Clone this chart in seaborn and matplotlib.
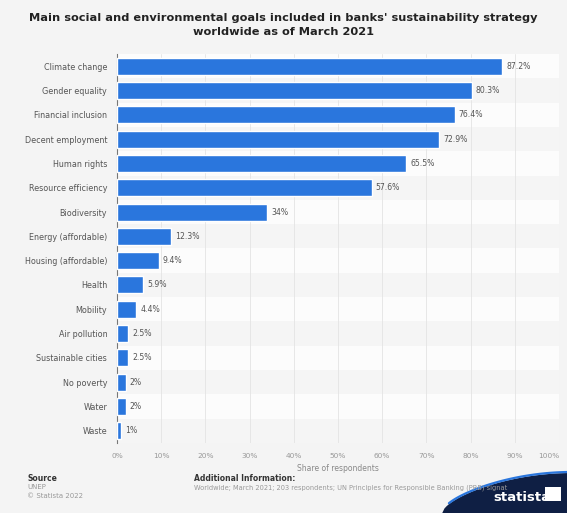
import matplotlib
matplotlib.use("Agg")
import matplotlib.pyplot as plt
import seaborn as sns
import pandas as pd
import numpy as np
from matplotlib.patches import Polygon

categories = ["Climate change", "Gender equality", "Financial inclusion", "Decent employment",
              "Human rights", "Resource efficiency", "Biodiversity", "Energy (affordable)",
              "Housing (affordable)", "Health", "Mobility", "Air pollution",
              "Sustainable cities", "No poverty", "Water", "Waste"]
values = [87.2, 80.3, 76.4, 72.9, 65.5, 57.6, 34, 12.3, 9.4, 5.9, 4.4, 2.5, 2.5, 2, 2, 1]
labels = ["87.2%", "80.3%", "76.4%", "72.9%", "65.5%", "57.6%", "34%", "12.3%", "9.4%",
          "5.9%", "4.4%", "2.5%", "2.5%", "2%", "2%", "1%"]
xticks = [0, 10, 20, 30, 40, 50, 60, 70, 80, 90, 100]
xticklabels = ["0%", "10%", "20%", "30%", "40%", "50%", "60%", "70%", "80%", "90%", "100%"]

df = pd.DataFrame({"goal": categories, "share": values})

sns.set_theme(style="white")
plt.rcParams['font.family'] = ['DejaVu Sans']

fig = plt.figure(figsize=(5.67, 5.13), dpi=100)
fig.patch.set_facecolor("#f4f4f4")
ax = fig.add_axes([0.2063, 0.1365, 0.7795, 0.7582])
ax.set_facecolor("#ffffff")

# alternating row bands
for i in range(len(categories)):
    ax.axhspan(i - 0.5, i + 0.5, color="#fcfcfc" if i % 2 == 0 else "#f5f5f5", zorder=0, lw=0)

sns.barplot(data=df, x="share", y="goal", orient="h", color="#2a76dd", saturation=1,
            width=0.70, ax=ax, zorder=3)

for i, (v, lab) in enumerate(zip(values, labels)):
    ax.text(v + 0.9, i, lab, va="center", ha="left", fontsize=5.6, color="#555555", zorder=4)

ax.set_xlim(0, 100)
ax.set_ylim(len(categories) - 0.5, -0.5)
ax.set_xticks(xticks)
ax.set_xticklabels(xticklabels, fontsize=5.3, color="#999999")
ax.get_xticklabels()[-1].set_horizontalalignment("right")
ax.tick_params(axis="y", labelsize=5.8, labelcolor="#555555", length=0, pad=7)
ax.tick_params(axis="x", length=0, pad=7)
ax.grid(axis="x", color="#e4e4e4", lw=0.6, zorder=1)
ax.set_axisbelow(True)
for s in ["top", "right", "bottom"]:
    ax.spines[s].set_visible(False)
ax.spines["left"].set_color("#777777")
ax.spines["left"].set_linewidth(0.8)
ax.set_ylabel("")
ax.set_xlabel("Share of respondents", fontsize=5.5, color="#888888", labelpad=4)

fig.text(0.5, 0.975, "Main social and environmental goals included in banks' sustainability strategy\nworldwide as of March 2021",
         ha="center", va="top", fontsize=8.2, fontweight="bold", color="#222222", linespacing=1.55)

fig.text(0.048, 0.062, "Source", fontsize=5.5, fontweight="bold", color="#333333")
fig.text(0.048, 0.046, "UNEP", fontsize=5, color="#999999")
fig.text(0.048, 0.030, "© Statista 2022", fontsize=5, color="#999999")
fig.text(0.342, 0.062, "Additional Information:", fontsize=5.5, fontweight="bold", color="#333333")
fig.text(0.342, 0.046, "Worldwide; March 2021; 203 respondents; UN Principles for Responsible Banking (PRB) signat",
         fontsize=4.8, color="#999999")

# statista logo swoosh
t = np.linspace(0, 1, 60)
xs = 0.78 + t * 0.23
ys = 0.078 * np.sin(t * np.pi / 2) ** 0.6
pts = list(zip(xs, ys)) + [(1.01, 0.0), (0.78, 0.0)]
fig.patches.append(Polygon(pts, closed=True, transform=fig.transFigure,
                           facecolor="#0f1f44", edgecolor="none"))
fig.lines.append(plt.Line2D(xs[3:], ys[3:] + 0.002, transform=fig.transFigure,
                            color="#2a76dd", lw=1.6))
fig.text(0.87, 0.023, "statista", fontsize=9.5, fontweight="bold", color="white")
fig.patches.append(Polygon([(0.962, 0.024), (0.99, 0.024), (0.99, 0.05), (0.962, 0.05)],
                           closed=True, transform=fig.transFigure,
                           facecolor="white", edgecolor="none"))

fig.savefig("out.png", dpi=100, facecolor=fig.get_facecolor())
